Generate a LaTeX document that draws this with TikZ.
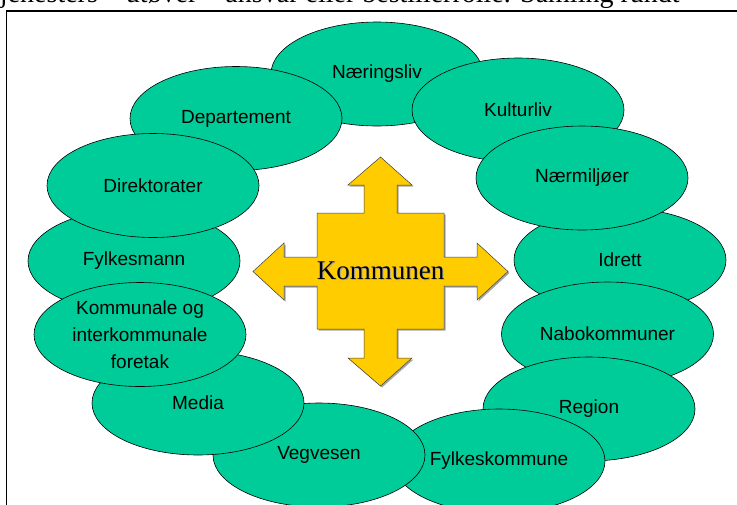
\documentclass[tikz,border=0pt]{standalone}
\usepackage{fontspec}
\setmainfont{Liberation Serif}
\newfontfamily\arialf{Liberation Sans}
\usetikzlibrary{shapes.geometric}
\definecolor{bubgreen}{RGB}{0,204,153}
\definecolor{crossyellow}{RGB}{255,204,0}
\begin{document}
\begin{tikzpicture}[x=1pt,y=-1pt,
  bub/.style={ellipse, draw=black, line width=0.6pt, fill=bubgreen,
    minimum width=212pt, minimum height=104pt, inner sep=0pt},
  lbl/.style={font=\arialf\fontsize{19}{27}\selectfont, align=center, inner sep=0pt},
  crossline/.style={draw=black!75, line width=0.5pt, fill=crossyellow}]
\useasboundingbox (0,0) rectangle (737,504);
\clip (0,0) rectangle (737,504);
\fill[white] (0,0) rectangle (737,504);
% clipped heading line
\node[anchor=base west, inner sep=0pt, font=\fontsize{28}{32}\selectfont] (head) at (-8,2.5)
  {tjenesters – utøver – ansvar eller bestillerrolle. Samling rundt};
% frame
\draw[line width=1.5pt] (6.5,11) rectangle (745,515);
% ellipses
\node[bub] (nae) at (377,74) {};
\node[lbl] at (nae) {Næringsliv};
\node[bub] (kul) at (518,110) {};
\node[lbl] at (kul) {Kulturliv};
\node[bub] (idr) at (620,260) {};
\node[lbl] at (idr) {Idrett};
\node[bub] (nrm) at (582,178) {};
\node[lbl] at (nrm) {Nærmiljøer};
\node[bub] (nab) at (607.5,334) {};
\node[lbl] at (nab) {Nabokommuner};
\node[bub] (reg) at (589,409) {};
\node[lbl] at (reg) {Region};
\node[bub] (fyk) at (499,461) {};
\node[lbl] at (fyk) {Fylkeskommune};
\node[bub] (veg) at (319,455) {};
\node[lbl] at (veg) {Vegvesen};
\node[bub] (med) at (198,403) {};
\node[lbl] at (med) {Media};
\node[bub] (fym) at (134,261) {};
\node[lbl] at (fym) {Fylkesmann};
\node[bub] (dep) at (236,118.5) {};
\node[lbl] at (dep) {Departement};
\node[bub] (dir) at (153,185.5) {};
\node[lbl] at (dir) {Direktorater};
\node[bub] (kmf) at (140,334.5) {};
\node[lbl] at (kmf) {Kommunale og\\interkommunale\\foretak};
% cross arrow
\def\crosspath{(380.5,157) -- (412,185) -- (397,185) -- (397,213) -- (444,213) -- (444,257) -- (477,257) -- (477,243) -- (508,271.5) -- (477,300) -- (477,286) -- (444,286) -- (444,329) -- (397,329) -- (397,358) -- (412,358) -- (380.5,386) -- (348,358) -- (364,358) -- (364,329) -- (317,329) -- (317,286) -- (284,286) -- (284,300) -- (253,271.5) -- (284,243) -- (284,257) -- (317,257) -- (317,213) -- (364,213) -- (364,185) -- (348,185) -- cycle}
\fill[black!35, shift={(1.5,1.5)}] \crosspath;
\path[crossline] \crosspath;
\node[font=\fontsize{27}{30}\selectfont, text=black!35] at (381.5,272) {Kommunen};
\node[font=\fontsize{27}{30}\selectfont] (kom) at (380.5,271) {Kommunen};
\end{tikzpicture}
\end{document}
